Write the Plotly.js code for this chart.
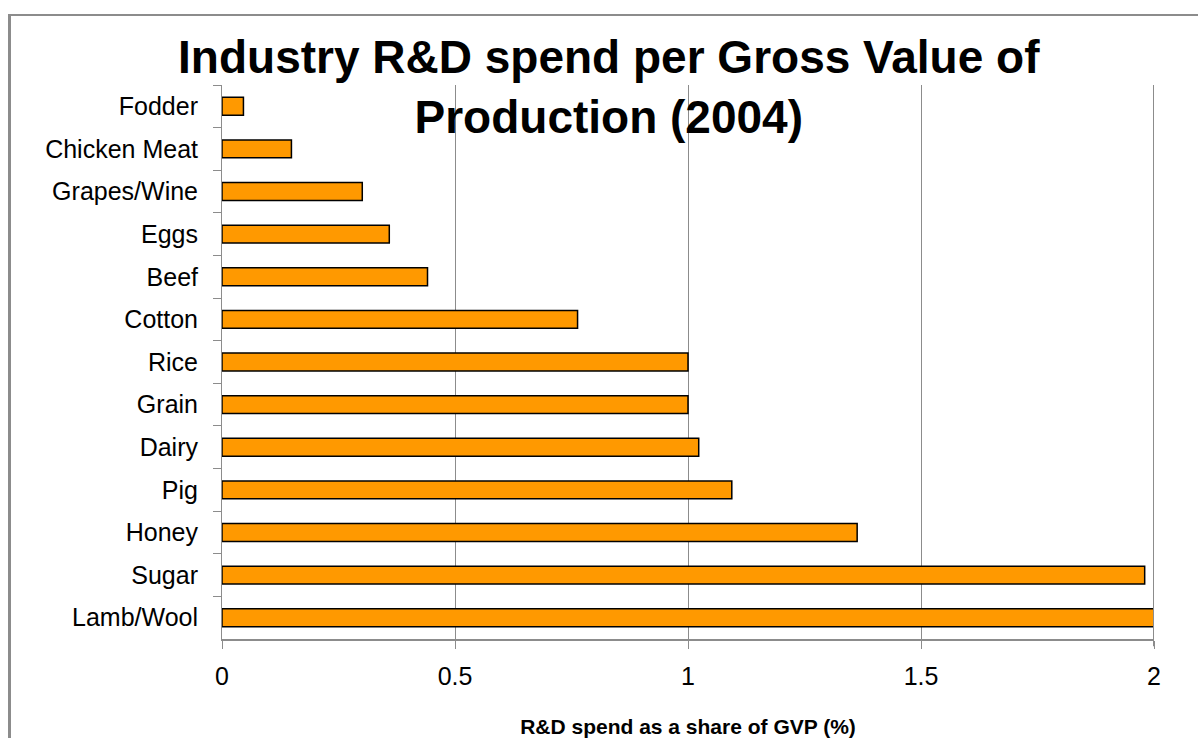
<!DOCTYPE html>
<html>
<head>
<meta charset="utf-8">
<script src="https://cdn.plot.ly/plotly-3.0.1.min.js"></script>
<style>
  html, body { margin: 0; padding: 0; background: #fff; }
  #chart { width: 1198px; height: 738px; }
  #frame { position: absolute; left: 8px; top: 14px; width: 1190px; height: 724px;
           border-left: 3px solid #8c8c8c; border-top: 2px solid #8c8c8c;
           pointer-events: none; box-sizing: border-box; }
</style>
</head>
<body>
<div id="chart"></div>
<div id="frame"></div>
<script>
const industries = ["Fodder", "Chicken Meat", "Grapes/Wine", "Eggs", "Beef", "Cotton",
                    "Rice", "Grain", "Dairy", "Pig", "Honey", "Sugar", "Lamb/Wool"];
const rdShare = [0.046, 0.149, 0.301, 0.359, 0.441, 0.763,
                 1.0, 1.0, 1.023, 1.094, 1.363, 1.98, 2.0];
const xTicks = [0, 0.5, 1, 1.5, 2];
const xTickLabels = ["0", "0.5", "1", "1.5", "2"];

const trace = {
  type: "bar",
  orientation: "h",
  y: industries,
  x: rdShare,
  marker: { color: "#FF9900", line: { color: "#000000", width: 1.5 } },
  hoverinfo: "x+y"
};

const layout = {
  width: 1198,
  height: 738,
  margin: { l: 222, r: 44, t: 85, b: 99 },
  paper_bgcolor: "#ffffff",
  plot_bgcolor: "#ffffff",
  showlegend: false,
  bargap: 0.58,
  font: { family: "Liberation Sans, Arial, sans-serif", color: "#000" },
  title: {
    text: "<b>Industry R&amp;D spend per Gross Value of<br>Production (2004)</b>",
    font: { size: 46, family: "Liberation Sans, Arial, sans-serif", color: "#000" },
    xref: "paper", x: 0.415, xanchor: "center",
    yref: "container", y: 0.901, yanchor: "top"
  },
  xaxis: {
    range: [0, 2],
    tickvals: xTicks,
    ticktext: xTickLabels,
    showgrid: true,
    gridcolor: "#8c8c8c",
    gridwidth: 1,
    zeroline: false,
    showline: true,
    linecolor: "#8c8c8c",
    linewidth: 2,
    ticks: "outside",
    ticklen: 8,
    tickcolor: "#8c8c8c",
    tickwidth: 1,
    ticklabelstandoff: 6,
    tickfont: { size: 25, color: "#000" },
    title: {
      text: "<b>R&amp;D spend as a share of GVP (%)</b>",
      font: { size: 21, color: "#000" },
      standoff: 30
    },
    fixedrange: true
  },
  yaxis: {
    autorange: "reversed",
    type: "category",
    showgrid: false,
    zeroline: false,
    showline: true,
    linecolor: "#8c8c8c",
    linewidth: 1,
    ticks: "outside",
    tickson: "boundaries",
    ticklen: 8,
    tickcolor: "#8c8c8c",
    tickwidth: 1,
    ticklabelstandoff: 18,
    tickfont: { size: 25, color: "#000" },
    fixedrange: true
  },
  shapes: [
    { type: "line", xref: "x", yref: "paper", x0: 2, x1: 2, y0: -0.013, y1: 1,
      line: { color: "#8c8c8c", width: 2 } }
  ]
};

Plotly.newPlot("chart", [trace], layout, { displayModeBar: false, staticPlot: true });
</script>
</body>
</html>
